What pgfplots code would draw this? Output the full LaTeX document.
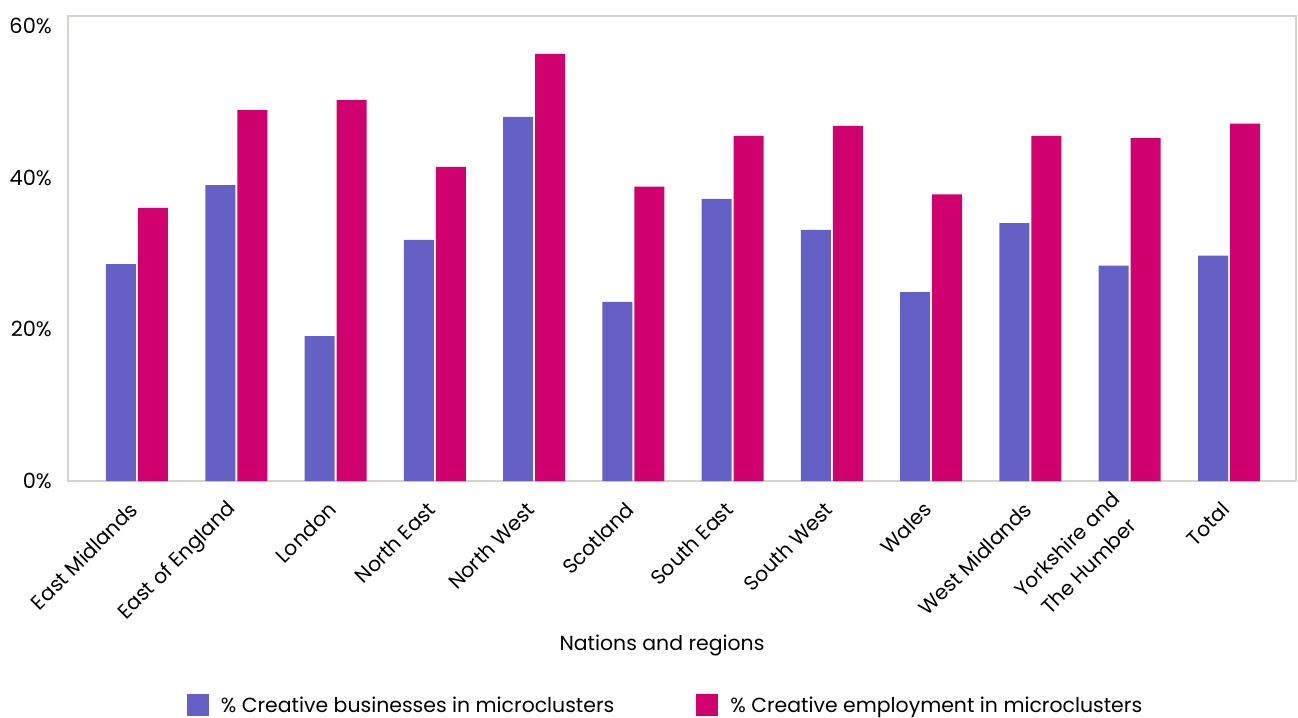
\documentclass[border=0pt]{standalone}
\usepackage{fontspec}
\setmainfont{Poppins}
\usepackage{pgfplots}
\pgfplotsset{compat=1.18}
\definecolor{cbiz}{HTML}{6560C5}
\definecolor{cemp}{HTML}{D0006F}
\definecolor{framec}{HTML}{D9D2CC}

\begin{document}
\begin{tikzpicture}
\begin{axis}[
  name=ax,
  scale only axis,
  width=1228bp, height=465bp,
  ybar=2bp, bar width=30bp,
  xmin=-0.695, xmax=11.675,
  ymin=0, ymax=61.3,
  xtick={0,...,11},
  xticklabels={East Midlands, East of England, London, North East, North West, Scotland, South East, South West, Wales, West Midlands, {Yorkshire and\\[7bp]The Humber}, Total},
  ytick={0,20,40,60},
  yticklabels={0\%,20\%,40\%,60\%},
  major tick length=0pt,
  axis line style={framec, line width=1.3bp},
  tick label style={text=black},
  yticklabel style={font=\fontsize{21}{25}\selectfont, anchor=east, inner sep=0pt, xshift=-16bp},
  xticklabel style={font=\fontsize{20.5}{24}\selectfont, inner sep=0pt, xshift=-3bp, yshift=-25bp, rotate=45, anchor=east, align=center},
  xlabel={Nations and regions},
  xlabel style={font=\fontsize{20.5}{24}\selectfont, at={(axis description cs:0.4837,0)}, anchor=center, yshift=-164bp},
  legend style={draw=none, fill=none, font=\fontsize{20.5}{24}\selectfont,
    at={(axis description cs:0.4866,0)}, anchor=center, yshift=-224bp,
    legend columns=2, /tikz/every even column/.append style={column sep=80bp}},
  legend image code/.code={\fill[#1] (0bp,-11bp) rectangle (22bp,11bp); \path (32bp,0bp);},
]
\addplot[fill=cbiz, draw=none] coordinates {
(0,28.6) (1,39.0) (2,19.1) (3,31.8) (4,48.0) (5,23.6)
(6,37.2) (7,33.1) (8,24.9) (9,34.0) (10,28.4) (11,29.7)};
\addlegendentry{\% Creative businesses in microclusters}
\addplot[fill=cemp, draw=none] coordinates {
(0,36.0) (1,48.9) (2,50.2) (3,41.4) (4,56.3) (5,38.8)
(6,45.5) (7,46.8) (8,37.8) (9,45.5) (10,45.2) (11,47.1)};
\addlegendentry{\% Creative employment in microclusters}
\end{axis}
\pgfresetboundingbox
\path[use as bounding box] ([shift={(-68bp,-237bp)}]ax.south west) rectangle ([shift={(2bp,16bp)}]ax.north east);
\end{tikzpicture}
\end{document}
